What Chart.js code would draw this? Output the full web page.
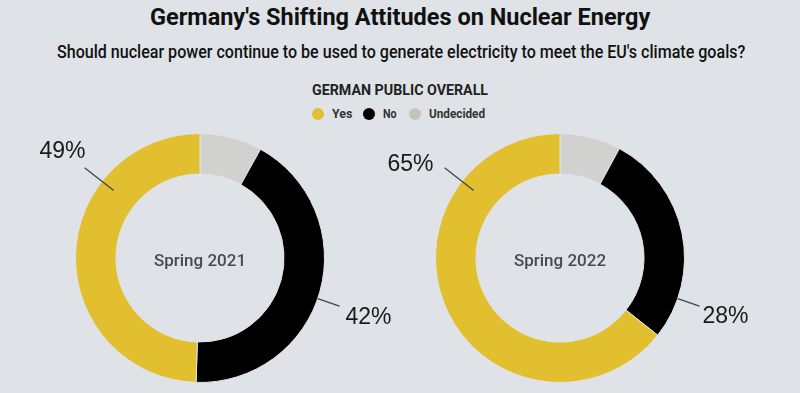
<!DOCTYPE html>
<html>
<head>
<meta charset="utf-8">
<script src="https://cdn.jsdelivr.net/npm/chart.js@4/dist/chart.umd.min.js"></script>
<style>
  body { margin: 0; width: 800px; height: 393px; background: #dfe3e7; overflow: hidden; position: relative; font-family: Roboto, sans-serif; }
  .txt { position: absolute; white-space: nowrap; transform-origin: left top; line-height: 1; color: #111; }
  #title { font-size: 24px; font-weight: 700; }
  #subtitle { font-size: 18px; font-weight: 500; }
  #legendTitle { font-size: 14px; font-weight: 700; color: #222; }
  .legText { font-size: 13px; font-weight: 700; color: #333; }
  .dot { position: absolute; width: 12px; height: 12px; border-radius: 50%; }
  canvas { position: absolute; }
</style>
</head>
<body>
<div id="title" class="txt">Germany's Shifting Attitudes on Nuclear Energy</div>
<div id="subtitle" class="txt">Should nuclear power continue to be used to generate electricity to meet the EU's climate goals?</div>
<div id="legendTitle" class="txt">GERMAN PUBLIC OVERALL</div>
<div id="legend"></div>
<canvas id="chart2021" width="400" height="260" style="left:0px;top:128px"></canvas>
<canvas id="chart2022" width="400" height="260" style="left:360px;top:128px"></canvas>

<script>
// data
const categories = ["Yes", "No", "Undecided"];
const colors = ["#e2bf2e", "#000000", "#d1d1cf"];
const legendDotColors = ["#e2bf2e", "#000000", "#c6c6b8"];
const years = ["Spring 2021", "Spring 2022"];
const yes = [49, 65];
const no = [42, 28];
const undecided = [8, 8];

// fit text to measured widths from the reference
function fit(id, left, top, width) {
    const el = document.getElementById(id);
    el.style.left = left + "px";
    el.style.top = top + "px";
    el.style.transform = "scaleX(" + (width / el.offsetWidth) + ")";
}
fit("title", 150, 5, 500);
fit("subtitle", 57, 43, 688);
fit("legendTitle", 312, 83, 176);

// legend built from categories
const legendPos = [
    {dot: 312, text: 332, w: 20},
    {dot: 363, text: 383, w: 14},
    {dot: 409, text: 429, w: 56}
];
const legend = document.getElementById("legend");
categories.forEach((c, i) => {
    const dot = document.createElement("div");
    dot.className = "dot";
    dot.style.left = legendPos[i].dot + "px";
    dot.style.top = "108px";
    dot.style.background = legendDotColors[i];
    legend.appendChild(dot);
    const t = document.createElement("div");
    t.className = "txt legText";
    t.id = "leg" + i;
    t.textContent = c;
    legend.appendChild(t);
    fit(t.id, legendPos[i].text, 107, legendPos[i].w);
});

// percent label placement (style only): angle in degrees clockwise from top
const labelStyle = [
    [
        {idx: 2, angle: -52, r0: -15, r1: 22, dx: 1, dy: -10, align: "right"},
        {idx: 1, angle: 109, r0: 0, r1: 23, dx: 6, dy: 18, align: "left"}
    ],
    [
        {idx: 2, angle: -52, r0: -15, r1: 22, dx: -11, dy: 3, align: "right"},
        {idx: 1, angle: 109, r0: 0, r1: 23, dx: 3, dy: 17, align: "left"}
    ]
];

const labelPlugin = {
    id: "donutLabels",
    afterDatasetsDraw(chart) {
        const ctx = chart.ctx;
        const k = chart.options.plugins.donutLabels.k;
        const meta = chart.getDatasetMeta(0);
        const values = chart.data.datasets[0].data;
        const total = values.reduce((a, b) => a + b, 0);
        const first = meta.data[0];
        ctx.save();
        // center text
        ctx.fillStyle = "#474a4f";
        ctx.font = "500 17px Roboto";
        ctx.textAlign = "center";
        ctx.textBaseline = "alphabetic";
        ctx.fillText(years[k], first.x, first.y + 8);
        // leader lines + percents
        labelStyle[k].forEach(s => {
            const arc = meta.data[s.idx];
            const a = (s.angle - 90) * Math.PI / 180;
            const ra = arc.outerRadius + s.r0, rb = arc.outerRadius + s.r1;
            const x0 = arc.x + ra * Math.cos(a), y0 = arc.y + ra * Math.sin(a);
            const x1 = arc.x + rb * Math.cos(a), y1 = arc.y + rb * Math.sin(a);
            ctx.strokeStyle = "#444";
            ctx.lineWidth = 1.3;
            ctx.beginPath();
            ctx.moveTo(x0, y0);
            ctx.lineTo(x1, y1);
            ctx.stroke();
            ctx.fillStyle = "#1a1a1a";
            ctx.font = "23px 'Liberation Sans'";
            ctx.textAlign = s.align;
            ctx.fillText(Math.round(values[s.idx] * 100 / 100) + "%", x1 + s.dx, y1 + s.dy);
        });
        ctx.restore();
    }
};

function createDonut(id, k) {
    new Chart(id, {
        type: "doughnut",
        data: {
            labels: ["Undecided", "No", "Yes"],
            datasets: [{
                data: [undecided[k], no[k], yes[k]],
                backgroundColor: [colors[2], colors[1], colors[0]],
                borderColor: "#dfe3e7",
                borderWidth: 1
            }]
        },
        options: {
            responsive: false,
            devicePixelRatio: 1,
            animation: false,
            cutout: "67.5%",
            layout: {padding: 5},
            plugins: {
                legend: {display: false},
                tooltip: {enabled: false},
                donutLabels: {k: k}
            }
        },
        plugins: [labelPlugin]
    });
}

createDonut("chart2021", 0);
createDonut("chart2022", 1);
</script>
</body>
</html>
